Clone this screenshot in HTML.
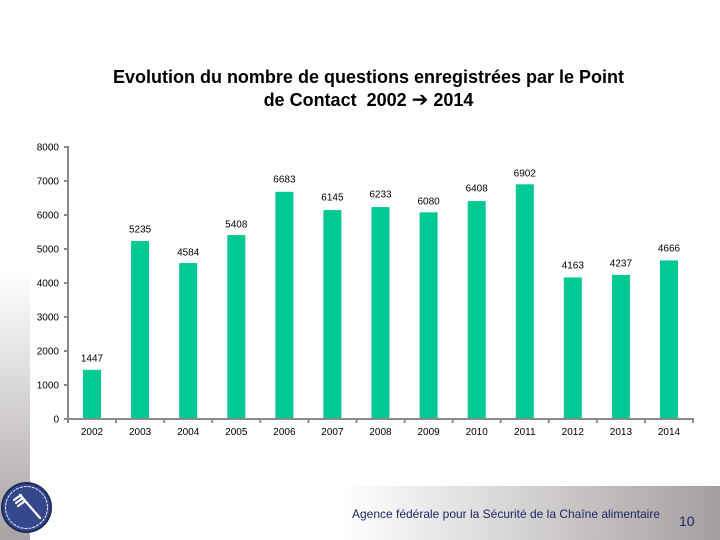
<!DOCTYPE html>
<html><head><meta charset="utf-8"><style>
html,body{margin:0;padding:0;background:#fff;}
body{width:720px;height:540px;overflow:hidden;position:relative;font-family:"Liberation Sans",Arial,sans-serif;}
.title{position:absolute;left:0;width:737px;top:66px;text-align:center;font-weight:bold;font-size:18px;line-height:23px;color:#000;}
.arr{font-family:"DejaVu Sans",sans-serif;font-size:20px;font-weight:bold;line-height:0;}
</style></head><body>
<div style="position:absolute;left:0;top:270px;width:30px;height:270px;background:linear-gradient(to bottom,#ffffff 0%,#d9d6d6 45%,#a8a2a2 100%);"></div>
<div style="position:absolute;left:340px;top:486px;width:380px;height:54px;background:linear-gradient(to right,#ffffff 0%,#dcdada 40%,#a59e9e 100%);"></div>
<div class="title">Evolution du nombre de questions enregistrées par le Point<br>de Contact&nbsp; 2002 <span class="arr">➔</span> 2014</div>
<svg width="720" height="540" style="position:absolute;left:0;top:0" xmlns="http://www.w3.org/2000/svg" font-family="Liberation Sans, Arial, sans-serif">
<g fill="#00c994">
<rect x="83" y="369.8" width="18" height="49.2"/>
<rect x="131.1" y="241" width="18" height="178"/>
<rect x="179.2" y="263.1" width="18" height="155.9"/>
<rect x="227.3" y="235.1" width="18" height="183.9"/>
<rect x="275.4" y="191.8" width="18" height="227.2"/>
<rect x="323.4" y="210.1" width="18" height="208.9"/>
<rect x="371.5" y="207.1" width="18" height="211.9"/>
<rect x="419.6" y="212.3" width="18" height="206.7"/>
<rect x="467.7" y="201.1" width="18" height="217.9"/>
<rect x="515.8" y="184.3" width="18" height="234.7"/>
<rect x="563.8" y="277.5" width="18" height="141.5"/>
<rect x="611.9" y="274.9" width="18" height="144.1"/>
<rect x="660" y="260.4" width="18" height="158.6"/>
</g>
<g stroke="#8a8a8a" stroke-width="2" fill="none">
<line x1="68" y1="146" x2="68" y2="420"/>
<line x1="67" y1="419" x2="694" y2="419"/>
<line x1="64" y1="147" x2="68" y2="147"/>
<line x1="64" y1="181" x2="68" y2="181"/>
<line x1="64" y1="215" x2="68" y2="215"/>
<line x1="64" y1="249" x2="68" y2="249"/>
<line x1="64" y1="283" x2="68" y2="283"/>
<line x1="64" y1="317" x2="68" y2="317"/>
<line x1="64" y1="351" x2="68" y2="351"/>
<line x1="64" y1="385" x2="68" y2="385"/>
<line x1="64" y1="419" x2="68" y2="419"/>
<line x1="68" y1="419" x2="68" y2="423"/>
<line x1="116.1" y1="419" x2="116.1" y2="423"/>
<line x1="164.2" y1="419" x2="164.2" y2="423"/>
<line x1="212.2" y1="419" x2="212.2" y2="423"/>
<line x1="260.3" y1="419" x2="260.3" y2="423"/>
<line x1="308.4" y1="419" x2="308.4" y2="423"/>
<line x1="356.5" y1="419" x2="356.5" y2="423"/>
<line x1="404.6" y1="419" x2="404.6" y2="423"/>
<line x1="452.6" y1="419" x2="452.6" y2="423"/>
<line x1="500.7" y1="419" x2="500.7" y2="423"/>
<line x1="548.8" y1="419" x2="548.8" y2="423"/>
<line x1="596.9" y1="419" x2="596.9" y2="423"/>
<line x1="645" y1="419" x2="645" y2="423"/>
<line x1="693" y1="419" x2="693" y2="423"/>
</g>
<g font-size="10" fill="#000" text-anchor="end">
<text x="59" y="150.5">8000</text>
<text x="59" y="184.5">7000</text>
<text x="59" y="218.5">6000</text>
<text x="59" y="252.5">5000</text>
<text x="59" y="286.5">4000</text>
<text x="59" y="320.5">3000</text>
<text x="59" y="354.5">2000</text>
<text x="59" y="388.5">1000</text>
<text x="59" y="422.5">0</text>
</g>
<g font-size="10" fill="#000" text-anchor="middle">
<text x="92" y="435">2002</text>
<text x="140.1" y="435">2003</text>
<text x="188.2" y="435">2004</text>
<text x="236.3" y="435">2005</text>
<text x="284.4" y="435">2006</text>
<text x="332.4" y="435">2007</text>
<text x="380.5" y="435">2008</text>
<text x="428.6" y="435">2009</text>
<text x="476.7" y="435">2010</text>
<text x="524.8" y="435">2011</text>
<text x="572.8" y="435">2012</text>
<text x="620.9" y="435">2013</text>
<text x="669" y="435">2014</text>
</g>
<g font-size="10" fill="#000" text-anchor="middle">
<text x="92" y="361.5">1447</text>
<text x="140.1" y="232.5">5235</text>
<text x="188.2" y="255.5">4584</text>
<text x="236.3" y="227.5">5408</text>
<text x="284.4" y="182.5">6683</text>
<text x="332.4" y="200.5">6145</text>
<text x="380.5" y="197.5">6233</text>
<text x="428.6" y="204.5">6080</text>
<text x="476.7" y="191.5">6408</text>
<text x="524.8" y="176.5">6902</text>
<text x="572.8" y="268.5">4163</text>
<text x="620.9" y="266.5">4237</text>
<text x="669" y="251.5">4666</text>
</g>
<text x="352" y="518" font-size="12" fill="#1c2868" textLength="308" lengthAdjust="spacingAndGlyphs">Agence fédérale pour la Sécurité de la Chaîne alimentaire</text>
<text x="679" y="526" font-size="14" fill="#1c2868">10</text>
<g>
<circle cx="26.5" cy="507.5" r="25.5" fill="#1e2a5a"/>
<circle cx="26.5" cy="507.5" r="23.5" fill="#34478c"/>
<circle cx="26.5" cy="507.5" r="21" fill="none" stroke="#e8ecf5" stroke-width="1" stroke-dasharray="3 1"/>
<g stroke="#ffffff" stroke-width="2.2" stroke-linecap="round">
<line x1="20" y1="495" x2="40" y2="518"/>
<line x1="14" y1="500" x2="21" y2="495"/>
<line x1="16" y1="503" x2="23" y2="498"/>
<line x1="18" y1="506" x2="25" y2="501"/>
</g>
</g>
</svg>
</body></html>
